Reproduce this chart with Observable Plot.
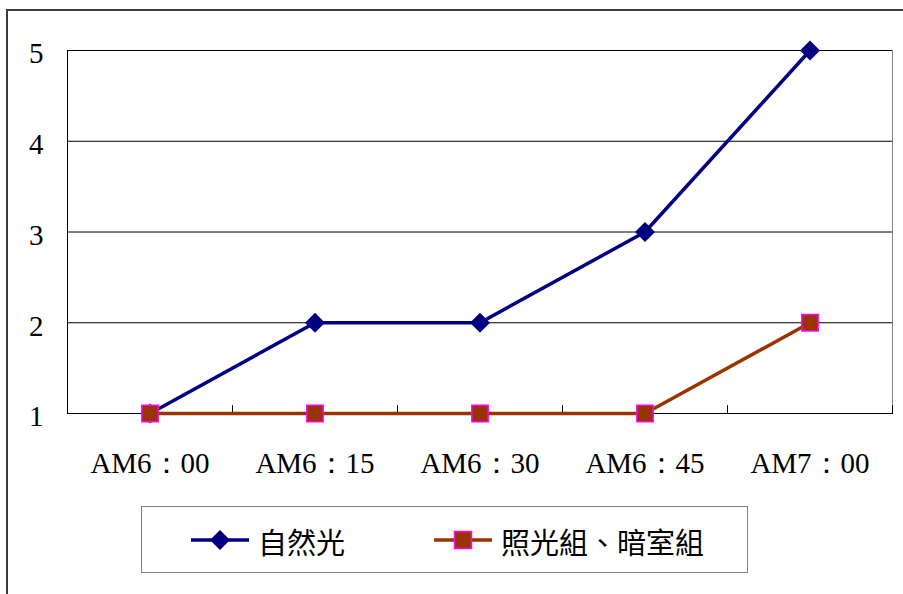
<!DOCTYPE html>
<html>
<head>
<meta charset="utf-8">
<script src="https://cdn.jsdelivr.net/npm/d3@7"></script>
<script src="https://cdn.jsdelivr.net/npm/@observablehq/plot@0.6"></script>
<style>
  html, body { margin: 0; padding: 0; background: #fff; overflow: hidden; }
  #wrap { position: relative; width: 903px; height: 594px; overflow: hidden; background: #fff; }
  #frame { position: absolute; left: 6px; top: 9px; width: 1000px; height: 700px; border: 2px solid #3c3c3c; box-sizing: border-box; }
  #chart { position: absolute; left: 0; top: 0; }
  #legend { position: absolute; left: 141px; top: 506px; width: 607px; height: 67px; border: 1px solid #808080; box-sizing: border-box; background: #fff; }
  #legend svg { position: absolute; left: 0; top: 0; }
</style>
</head>
<body>
<div id="wrap">
  <div id="frame"></div>
  <div id="chart"></div>
  <div id="legend"></div>
</div>
<script>
// Sampling times along the morning
const categories = ["AM6：00", "AM6：15", "AM6：30", "AM6：45", "AM7：00"];
// Series values per time point
const naturalLight = [1, 2, 2, 3, 5];
const litAndDark = [1, 1, 1, 1, 2];
// Series names and y-axis ticks
const seriesNames = ["自然光", "照光組、暗室組"];
const yTicks = [1, 2, 3, 4, 5];

const navy = "#000080";
const brown = "#993300";
const magenta = "#FF00FF";
const serif = "'Liberation Serif', 'Times New Roman', serif";
const cjk = "'Noto Sans CJK TC', 'Noto Sans CJK SC', sans-serif";

const n = categories.length;
const idx = d3.range(n);
const boundaries = d3.range(n + 1).map(k => k - 0.5);
const naturalRows = idx.map(i => ({i, v: naturalLight[i]}));
const litRows = idx.map(i => ({i, v: litAndDark[i]}));

// short upward tick drawn at each category boundary on the x axis
const tickUp = {draw(ctx, l) { ctx.moveTo(0, 0); ctx.lineTo(0, -l); }};

const chart = Plot.plot({
  width: 903,
  height: 500,
  marginLeft: 67,
  marginRight: 11,
  marginTop: 50,
  marginBottom: 87,
  style: {fontFamily: serif, fontSize: "29px", background: "transparent", overflow: "visible"},
  x: {type: "linear", domain: [-0.5, n - 0.5]},
  y: {type: "linear", domain: [yTicks[0], yTicks[yTicks.length - 1]]},
  marks: [
    Plot.frame({stroke: "#808080"}),
    Plot.ruleY(yTicks, {stroke: "#000", strokeWidth: 1}),
    Plot.ruleX([-0.5], {stroke: "#000", strokeWidth: 1}),
    Plot.vector(boundaries, {x: d => d, y: () => yTicks[0], length: 8, anchor: "start", shape: tickUp, stroke: "#000", strokeWidth: 1}),
    Plot.axisY(yTicks, {tickSize: 0, tickPadding: 24, dy: 3.5, fontSize: 29, label: null, fill: "#000", tickFormat: d => String(d)}),
    Plot.axisX(idx, {tickSize: 0, tickPadding: 39, fontSize: 29, label: null, fill: "#000", tickFormat: i => categories[i]}),
    Plot.line(naturalRows, {x: "i", y: "v", stroke: navy, strokeWidth: 3.5}),
    Plot.dot(naturalRows, {x: "i", y: "v", symbol: "diamond2", r: 9, fill: navy, stroke: null}),
    Plot.line(litRows, {x: "i", y: "v", stroke: brown, strokeWidth: 3.5}),
    Plot.dot(litRows, {x: "i", y: "v", symbol: "square", r: 9.2, fill: brown, stroke: magenta, strokeWidth: 1.5})
  ]
});
document.getElementById("chart").appendChild(chart);

// Legend: line-and-marker swatch followed by the series name
const leg = d3.select("#legend").append("svg").attr("width", 605).attr("height", 65);
const items = [
  {name: seriesNames[0], x0: 49, color: navy, marker: "diamond"},
  {name: seriesNames[1], x0: 292, color: brown, marker: "square"}
];
for (const it of items) {
  const g = leg.append("g").attr("transform", `translate(${it.x0},33)`);
  g.append("line").attr("x1", 0).attr("x2", 58).attr("y1", 0).attr("y2", 0)
    .attr("stroke", it.color).attr("stroke-width", 3.5);
  if (it.marker === "diamond") {
    g.append("path").attr("d", "M29,-10L39,0L29,10L19,0Z").attr("fill", it.color);
  } else {
    g.append("rect").attr("x", 20.5).attr("y", -8.5).attr("width", 17).attr("height", 17)
      .attr("fill", it.color).attr("stroke", magenta).attr("stroke-width", 1.5);
  }
  g.append("text").attr("x", 67).attr("y", 14)
    .attr("font-family", cjk).attr("font-size", 29).attr("fill", "#000")
    .text(it.name);
}
</script>
</body>
</html>
